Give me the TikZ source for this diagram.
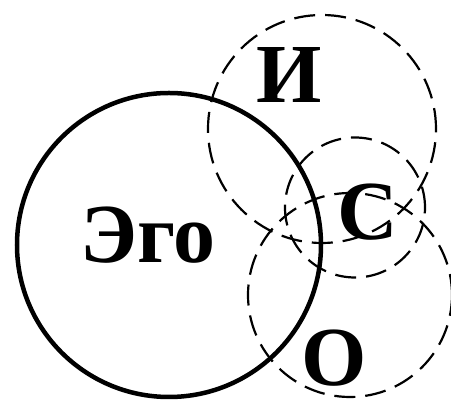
\documentclass[tikz,border=0pt]{standalone}
\usepackage{fontspec}
\setmainfont{Liberation Serif}
\usepackage{tikz}
\usetikzlibrary{positioning}
\tikzset{
  egoring/.style={circle, draw, line width=4.5pt, inner sep=0pt},
  ring/.style={circle, draw, line width=2.2pt, inner sep=0pt,
               dash pattern=on 21pt off 10pt},
  lbl/.style={anchor=base, inner sep=0pt, font=\fontsize{84}{90}\selectfont\bfseries},
}
\begin{document}
\begin{tikzpicture}[x=1pt,y=1pt]
  \useasboundingbox (0,0) rectangle (451,401);
  \node[egoring, minimum size=304pt] (ego) at (169,156) {};
  \node[ring, minimum size=228pt] (id) at (322,272) {};
  \node[ring, minimum size=140pt] (sup) at (355,193.5) {};
  \node[ring, minimum size=204pt] (oth) at (350,106) {};
  \node[lbl] (egot) at (148,138) {Эго};
  \node[lbl] (idt) at (289,298) {И};
  \node[lbl] (supt) at (368,161) {С};
  \node[lbl] (otht) at (334,15) {О};
\end{tikzpicture}
\end{document}
